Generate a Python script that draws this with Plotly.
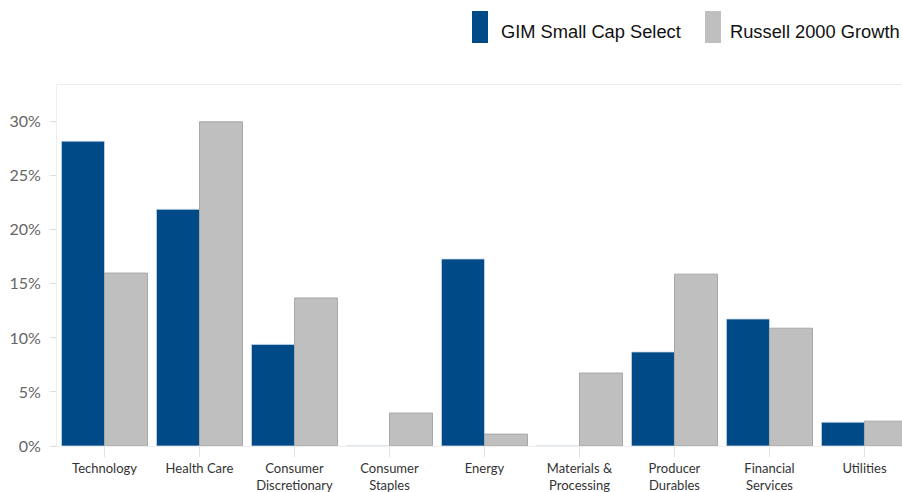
import plotly.graph_objects as go

categories = ["Technology", "Health Care", "Consumer<br>Discretionary", "Consumer<br>Staples",
              "Energy", "Materials &<br>Processing", "Producer<br>Durables", "Financial<br>Services",
              "Utilities"]
gim_values = [0.282, 0.219, 0.094, 0.0, 0.173, 0.0, 0.087, 0.1175, 0.022]
russell_values = [0.160, 0.300, 0.137, 0.0305, 0.011, 0.0675, 0.159, 0.109, 0.023]
series_names = ["GIM Small Cap Select", "Russell 2000 Growth"]
y_tick_values = [0, 0.05, 0.10, 0.15, 0.20, 0.25, 0.30]
y_tick_labels = ["0%", "5%", "10%", "15%", "20%", "25%", "30%"]

BLUE = "#004a87"
GRAY = "#bfbfbf"

W, H = 902, 492
L, R, T, B = 57, 0, 85, 46
PW, PH = W - L - R, H - T - B


def px_x(x):
    return (x - L) / PW


def px_y(y):
    return (H - B - y) / PH


fig = go.Figure()
fig.add_trace(go.Bar(x=categories, y=gim_values, name=series_names[0],
                     marker=dict(color=BLUE, line=dict(color="#c9d9e8", width=0.8)),
                     showlegend=False))
fig.add_trace(go.Bar(x=categories, y=russell_values, name=series_names[1],
                     marker=dict(color=GRAY, line=dict(color="#a8a8a8", width=1)),
                     showlegend=False))

# custom legend (tall swatches)
legend_items = [(series_names[0], BLUE, 472, 488, 499),
                (series_names[1], GRAY, 705, 721, 728)]
for name, col, x0, x1, xt in legend_items:
    fig.add_shape(type="rect", xref="paper", yref="paper", x0=px_x(x0), x1=px_x(x1),
                  y0=px_y(43), y1=px_y(11),
                  fillcolor=col, line=dict(width=0))
    fig.add_annotation(xref="paper", yref="paper", x=px_x(xt), y=px_y(31),
                       text=name, showarrow=False, xanchor="left", yanchor="middle",
                       font=dict(family="Liberation Sans, Arial", size=18.3, color="#111111"))

fig.update_layout(
    width=W, height=H,
    margin=dict(l=L, r=R, t=T, b=B, pad=0, autoexpand=False),
    paper_bgcolor="white", plot_bgcolor="white",
    barmode="group", bargap=0.094, bargroupgap=0,
    xaxis=dict(range=[-0.5, 8.395], showgrid=False, showline=True, mirror=True,
               linecolor="#eeeeee", linewidth=1, automargin=False,
               ticks="outside", ticklen=10, tickcolor="#e2e2e2",
               tickfont=dict(family="Lato, Open Sans", size=13, color="#333333"),
               fixedrange=True),
    yaxis=dict(range=[0, 0.334], tickvals=y_tick_values, ticktext=y_tick_labels,
               showgrid=False, zeroline=False, showline=True, mirror=True,
               linecolor="#eeeeee", linewidth=1, automargin=False,
               ticks="outside", ticklen=6, tickcolor="#dddddd",
               ticklabelstandoff=6,
               tickfont=dict(family="Lato, Open Sans", size=16, color="#666666"),
               fixedrange=True),
)

fig.write_html("out.html", config={"displayModeBar": False},
               post_script="document.body.style.margin='0';document.body.style.overflow='hidden';")
